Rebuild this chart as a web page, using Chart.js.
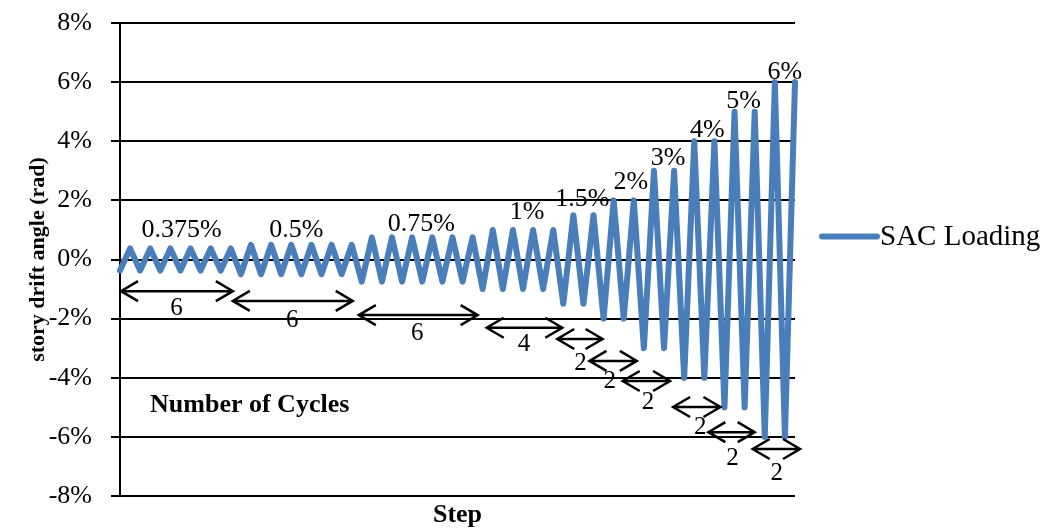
<!DOCTYPE html>
<html>
<head>
<meta charset="utf-8">
<title>SAC Loading</title>
<script src="https://cdn.jsdelivr.net/npm/chart.js@4.4.1/dist/chart.umd.min.js"></script>
<style>
  html, body { margin: 0; padding: 0; background: #fff; }
  canvas { display: block; }
</style>
</head>
<body>
<canvas id="loadingChart" width="1053" height="531"></canvas>
<script>
// story drift angle (%) at each half cycle of the SAC protocol
const driftAngle = [
  -0.375, 0.375, -0.375, 0.375, -0.375, 0.375, -0.375, 0.375, -0.375, 0.375, -0.375, 0.375,
  -0.5, 0.5, -0.5, 0.5, -0.5, 0.5, -0.5, 0.5, -0.5, 0.5, -0.5, 0.5,
  -0.75, 0.75, -0.75, 0.75, -0.75, 0.75, -0.75, 0.75, -0.75, 0.75, -0.75, 0.75,
  -1, 1, -1, 1, -1, 1, -1, 1,
  -1.5, 1.5, -1.5, 1.5,
  -2, 2, -2, 2,
  -3, 3, -3, 3,
  -4, 4, -4, 4,
  -5, 5, -5, 5,
  -6, 6, -6, 6
];
const steps = driftAngle.map((_, i) => i + 1);

const levelLabels = ["0.375%", "0.5%", "0.75%", "1%", "1.5%", "2%", "3%", "4%", "5%", "6%"];
const cycleCounts = ["6", "6", "6", "4", "2", "2", "2", "2", "2", "2"];
const yTickValues = [-8, -6, -4, -2, 0, 2, 4, 6, 8];

// where the notes sit, in step / drift units
const levelLabelStep = [6.1, 17.5, 29.9, 40.4, 45.9, 50.7, 54.4, 58.3, 61.9, 66.0];
const levelLabelDrift = [1.0, 1.0, 1.2, 1.61, 2.05, 2.62, 3.43, 4.38, 5.36, 6.34];
const arrowFrom = [0.1, 11.2, 23.7, 36.4, 43.4, 46.6, 49.9, 54.9, 58.4, 62.8];
const arrowTo = [11.2, 23.1, 35.5, 43.9, 47.9, 51.3, 54.6, 59.6, 63.0, 67.5];
const arrowDrift = [-1.07, -1.40, -1.88, -2.31, -2.69, -3.43, -4.11, -4.99, -5.84, -6.41];
const countStep = [5.6, 17.1, 29.5, 40.1, 45.7, 48.6, 52.4, 57.6, 60.8, 65.2];
const countDrift = [-1.64, -2.05, -2.49, -2.86, -3.50, -4.14, -4.82, -5.67, -6.72, -7.22];

const serif = "'Liberation Serif', 'Times New Roman', serif";
const lineColor = "#4A7EBB";

function drawArrow(ctx, x1, x2, y) {
  const head = 17, half = 10;
  ctx.beginPath();
  ctx.moveTo(x1, y);
  ctx.lineTo(x2, y);
  ctx.moveTo(x1 + head, y - half);
  ctx.lineTo(x1, y);
  ctx.lineTo(x1 + head, y + half);
  ctx.moveTo(x2 - head, y - half);
  ctx.lineTo(x2, y);
  ctx.lineTo(x2 - head, y + half);
  ctx.stroke();
}

const protocolNotes = {
  id: "protocolNotes",
  afterDatasetsDraw(chart) {
    const { ctx, scales: { x, y } } = chart;
    ctx.save();
    ctx.fillStyle = "#000";
    ctx.strokeStyle = "#000";
    ctx.lineWidth = 2.5;
    ctx.textAlign = "center";
    ctx.textBaseline = "middle";

    ctx.font = "26px " + serif;
    levelLabels.forEach((t, i) => {
      ctx.fillText(t, x.getPixelForValue(levelLabelStep[i]), y.getPixelForValue(levelLabelDrift[i]));
    });

    ctx.font = "25px " + serif;
    cycleCounts.forEach((t, i) => {
      drawArrow(ctx, x.getPixelForValue(arrowFrom[i]), x.getPixelForValue(arrowTo[i]),
        y.getPixelForValue(arrowDrift[i]));
      ctx.fillText(t, x.getPixelForValue(countStep[i]), y.getPixelForValue(countDrift[i]));
    });

    ctx.font = "bold 26px " + serif;
    ctx.textAlign = "left";
    ctx.fillText("Number of Cycles", x.getPixelForValue(2.98), y.getPixelForValue(-4.92));
    ctx.restore();
  },
  afterDraw(chart) {
    // legend entry to the right of the plot
    const { ctx, chartArea } = chart;
    const ds = chart.data.datasets[0];
    const ly = (chartArea.top + chartArea.bottom) / 2 - 23;
    const lx = chartArea.right + 27;
    ctx.save();
    ctx.strokeStyle = ds.borderColor;
    ctx.lineWidth = 6;
    ctx.lineCap = "round";
    ctx.beginPath();
    ctx.moveTo(lx, ly);
    ctx.lineTo(lx + 55, ly);
    ctx.stroke();
    ctx.fillStyle = "#000";
    ctx.font = "29px " + serif;
    ctx.textAlign = "left";
    ctx.textBaseline = "middle";
    ctx.fillText(ds.label, lx + 58, ly + 1);
    ctx.restore();
  }
};

new Chart(document.getElementById("loadingChart").getContext("2d"), {
  type: "line",
  data: {
    labels: steps,
    datasets: [
      {
        label: "SAC Loading",
        data: driftAngle,
        borderColor: lineColor,
        borderWidth: 6,
        borderJoinStyle: "round",
        borderCapStyle: "round",
        pointRadius: 0,
        tension: 0,
        fill: false
      }
    ]
  },
  options: {
    responsive: false,
    animation: false,
    devicePixelRatio: 1,
    layout: { padding: { top: 0, right: 258, bottom: 0, left: 0 } },
    plugins: {
      legend: { display: false },
      tooltip: { enabled: false }
    },
    scales: {
      x: {
        type: "category",
        offset: false,
        grid: { display: false },
        border: { display: false },
        ticks: { display: false },
        title: {
          display: true,
          text: "Step",
          color: "#000",
          font: { family: serif, size: 26, weight: "bold" },
          padding: { top: 2, bottom: 0 }
        },
        afterFit(scale) { scale.height = 35; }
      },
      y: {
        min: -8,
        max: 8,
        afterBuildTicks(scale) {
          scale.ticks = yTickValues.map(v => ({ value: v }));
        },
        ticks: {
          color: "#000",
          padding: 19,
          font: { family: serif, size: 26 },
          callback: v => v + "%"
        },
        grid: { color: "#000", lineWidth: 2, tickLength: 9 },
        border: { color: "#000", width: 2 },
        title: {
          display: true,
          text: "story drift angle (rad)",
          color: "#000",
          font: { family: serif, size: 22, weight: "bold" },
          padding: { top: 25, bottom: 0 }
        },
        afterFit(scale) {
          scale.width = 120;
          scale.paddingTop = 23;
          scale.paddingBottom = 0;
        }
      }
    }
  },
  plugins: [protocolNotes]
});
</script>
</body>
</html>
